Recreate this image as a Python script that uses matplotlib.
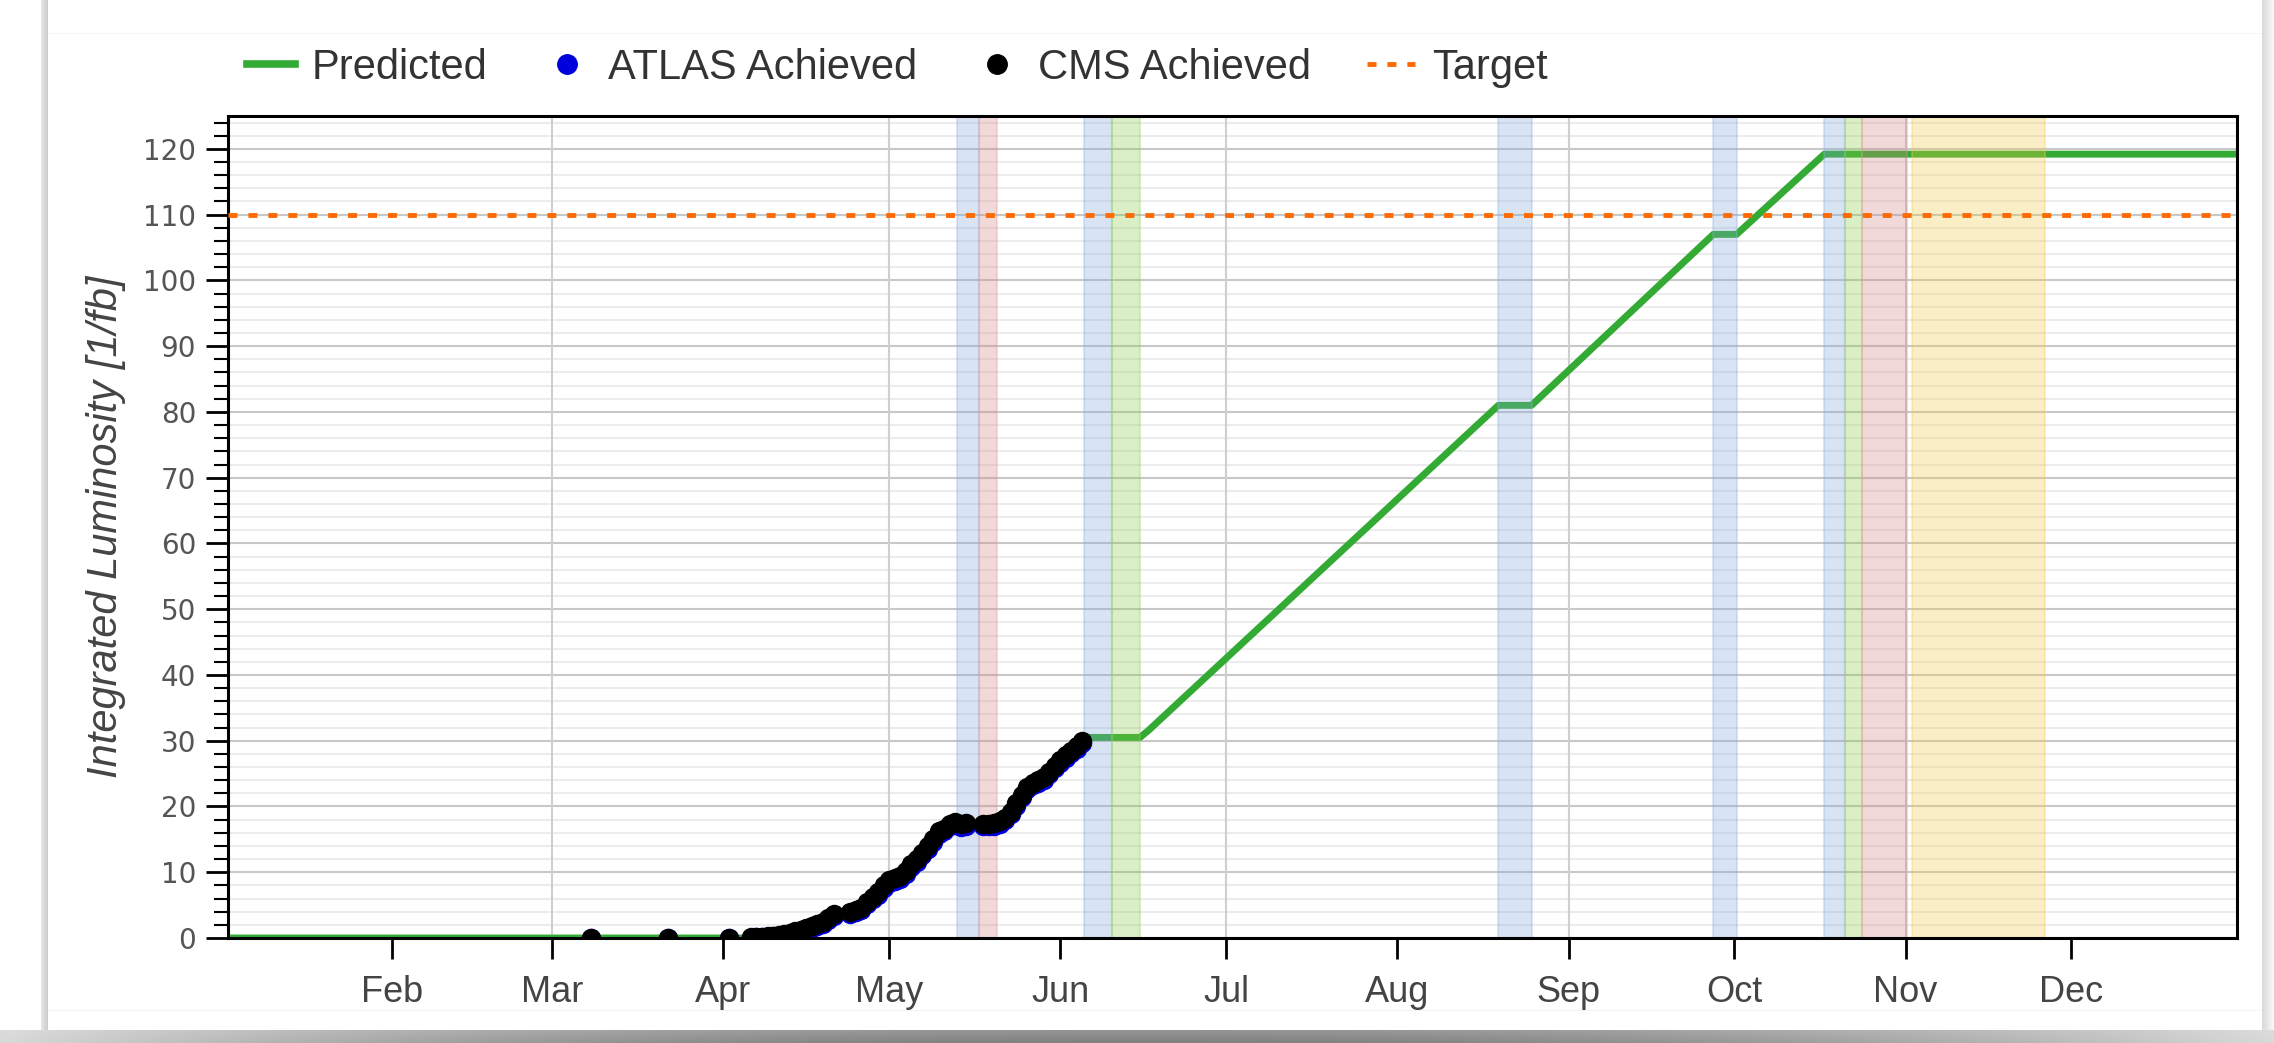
import matplotlib
matplotlib.use('Agg')
import matplotlib.pyplot as plt
import matplotlib.dates as mdates
from matplotlib.lines import Line2D
from matplotlib.ticker import MultipleLocator
import numpy as np
import pandas as pd

plt.rcParams['font.family'] = ['Liberation Sans', 'DejaVu Sans']

# ---- data ----
cms_dates = ['2024-03-08', '2024-03-22', '2024-04-02',
             '2024-04-06', '2024-04-07', '2024-04-08', '2024-04-09', '2024-04-10',
             '2024-04-11', '2024-04-12', '2024-04-13', '2024-04-14', '2024-04-15',
             '2024-04-16', '2024-04-17', '2024-04-18', '2024-04-19', '2024-04-20',
             '2024-04-21', '2024-04-24', '2024-04-25', '2024-04-26', '2024-04-27',
             '2024-04-28', '2024-04-29', '2024-04-30', '2024-05-01', '2024-05-02',
             '2024-05-03', '2024-05-04', '2024-05-05', '2024-05-06', '2024-05-07',
             '2024-05-08', '2024-05-09', '2024-05-10', '2024-05-11', '2024-05-12',
             '2024-05-13', '2024-05-14', '2024-05-15', '2024-05-18', '2024-05-19',
             '2024-05-20', '2024-05-21', '2024-05-22', '2024-05-23', '2024-05-24',
             '2024-05-25', '2024-05-26', '2024-05-27', '2024-05-28', '2024-05-29',
             '2024-05-30', '2024-05-31', '2024-06-01', '2024-06-02', '2024-06-03',
             '2024-06-04', '2024-06-05']
cms_lumi = [0.0, 0.0, 0.0,
            0.1, 0.15, 0.2, 0.3, 0.35,
            0.45, 0.6, 0.8, 1.0, 1.2,
            1.5, 1.8, 2.1, 2.5, 3.0,
            3.7, 4.0, 4.2, 4.5, 5.5,
            6.3, 7.0, 8.0, 8.8, 9.1,
            9.4, 10.2, 11.2, 12.0, 13.0,
            14.0, 15.0, 16.2, 16.6, 17.4,
            17.6, 17.3, 17.5, 17.4, 17.4,
            17.5, 17.8, 18.3, 19.2, 20.5,
            21.8, 23.0, 23.6, 24.0, 24.5,
            25.3, 26.2, 27.0, 27.8, 28.5,
            29.2, 30.0]

atlas_dates = cms_dates
atlas_lumi = [0.0, 0.0, 0.0,
              0.05, 0.1, 0.15, 0.2, 0.25,
              0.3, 0.4, 0.6, 0.8, 1.0,
              1.2, 1.5, 1.8, 2.2, 2.7,
              3.3, 3.7, 3.9, 4.2, 5.1,
              5.9, 6.6, 7.6, 8.4, 8.7,
              9.0, 9.8, 10.8, 11.6, 12.6,
              13.6, 14.6, 15.8, 16.2, 17.0,
              17.2, 16.9, 17.1, 17.0, 17.0,
              17.1, 17.4, 17.9, 18.8, 20.1,
              21.4, 22.6, 23.2, 23.6, 24.1,
              24.9, 25.8, 26.6, 27.4, 28.1,
              28.8, 29.6]

pred_dates = ['2024-01-02 00:00', '2024-04-08 00:00', '2024-04-14 00:00', '2024-04-21 00:00',
              '2024-04-24 00:00', '2024-05-01 00:00', '2024-05-13 00:00', '2024-05-18 00:00',
              '2024-05-20 00:00', '2024-05-23 00:00', '2024-05-26 00:00', '2024-05-29 00:00',
              '2024-06-01 00:00', '2024-06-05 08:00', '2024-06-15 10:00', '2024-06-17 00:00',
              '2024-08-19 07:00', '2024-08-25 07:00', '2024-09-27 05:00', '2024-10-01 10:00',
              '2024-10-17 07:00', '2024-12-31 00:00']
pred_lumi = [0, 0, 0.8, 2.6, 4.0, 8.8, 17.4, 17.4, 17.5, 19.2, 23.0, 24.5, 27.0,
             30.5, 30.5, 31.6, 81, 81, 107, 107, 119.2, 119.2]

target_lumi = 110

# shaded periods (MD = blue, TS = red, special = green, ions = yellow)
band_start = ['2024-05-13 07:00', '2024-05-17 05:00', '2024-06-05 07:00', '2024-06-10 07:00',
              '2024-08-19 07:00', '2024-09-27 05:00', '2024-10-17 07:00', '2024-10-21 02:00',
              '2024-10-24 05:00', '2024-11-02 05:00']
band_end = ['2024-05-17 05:00', '2024-05-20 12:00', '2024-06-10 07:00', '2024-06-15 10:00',
            '2024-08-25 07:00', '2024-10-01 10:00', '2024-10-21 02:00', '2024-10-24 05:00',
            '2024-11-01 05:00', '2024-11-26 07:00']
band_kind = ['MD', 'TS', 'MD', 'special', 'MD', 'MD', 'MD', 'special', 'TS', 'ions']

band_fill = {'MD': '#80a5da', 'TS': '#d48484', 'special': '#8acd48', 'ions': '#f1c945'}
band_edge = {'MD': '#8fb2e3', 'TS': '#d99a9a', 'special': '#8fd050', 'ions': '#f3cf55'}

W, H = 2274, 1043
fig = plt.figure(figsize=(W / 100, H / 100), dpi=100)

# screenshot card with its shadow
bg = np.ones((H, W))
bg[:, 41:48] = np.linspace(0.9, 0.8, 7)[None, :]
bg[:, 2262:] = np.linspace(0.85, 0.97, W - 2262)[None, :]
xs = np.abs(np.arange(W) - W / 2) / (W / 2)
shade = 0.5 + 0.35 * xs ** 2
rows = np.linspace(0.8, 1.0, H - 1030)[:, None]
bg[1030:, :] = shade[None, :] * rows + (1 - rows) * 0.9
bg[1010, 48:2262] = 0.95
bg[33, 48:2262] = 0.96
bgax = fig.add_axes([0, 0, 1, 1], zorder=-5)
bgax.imshow(bg, cmap='gray', vmin=0, vmax=1, aspect='auto', interpolation='nearest')
bgax.axis('off')

ax = fig.add_axes([228 / W, 1 - 938 / H, (2237 - 228) / W, (938 - 116) / H])

cd = pd.to_datetime(cms_dates, format='ISO8601')
ad = pd.to_datetime(atlas_dates, format='ISO8601')
pdt = pd.to_datetime(pred_dates, format='ISO8601')

ax.plot(pdt, pred_lumi, color='#33aa33', lw=5, zorder=2, solid_joinstyle='round')

for s, e, k in zip(band_start, band_end, band_kind):
    ax.axvspan(pd.Timestamp(s), pd.Timestamp(e), facecolor=band_fill[k], alpha=0.3,
               edgecolor=band_edge[k], lw=1.5, zorder=2.2)

ax.plot(ad, atlas_lumi, 'o', color='#0000dd', ms=14, mew=0, zorder=2.5)
ax.plot(cd, cms_lumi, 'o', color='black', ms=14, mew=0, zorder=2.6)

ax.axhline(target_lumi, color='#ff6a00', lw=3.5, ls=(0, (1.85, 2.25)), zorder=4)

# grid
for m in ['2024-03-01', '2024-05-01', '2024-07-01', '2024-09-01', '2024-11-01']:
    ax.axvline(pd.Timestamp(m), color='#cfcfcf', lw=1.5, zorder=1)
ax.yaxis.set_major_locator(MultipleLocator(10))
ax.yaxis.set_minor_locator(MultipleLocator(2))
ax.grid(True, axis='y', which='major', color='#c8c8c8', lw=1.5, zorder=0)
ax.grid(True, axis='y', which='minor', color='#ececec', lw=1.5, zorder=0)
ax.set_axisbelow(True)

ax.set_xlim(pd.Timestamp('2024-01-02 08:00'), pd.Timestamp('2024-12-31'))
ax.set_ylim(0, 125)
ax.xaxis.set_major_locator(mdates.MonthLocator())
ax.xaxis.set_major_formatter(mdates.DateFormatter('%b'))

ax.tick_params(axis='x', which='major', direction='out', length=15, width=2,
               labelsize=26, labelcolor='#444444', pad=12)
ax.tick_params(axis='y', which='major', direction='out', length=16, width=2,
               labelsize=20, labelcolor='#555555', pad=7)
ax.tick_params(axis='y', which='minor', direction='out', length=10, width=1.5)
for lab in ax.get_yticklabels():
    lab.set_family('DejaVu Sans')
for sp in ax.spines.values():
    sp.set_linewidth(2.2)
    sp.set_color('black')

ax.set_ylabel('Integrated Luminosity [1/fb]', fontsize=30, style='italic',
              color='#444444', labelpad=12)

handles = [Line2D([], [], color='#33aa33', lw=5.5),
           Line2D([], [], marker='o', ls='', color='#0000dd', ms=14),
           Line2D([], [], marker='o', ls='', color='black', ms=14),
           Line2D([], [], color='#ff6a00', lw=3.5, ls=(0, (1.85, 2.25)))]
labels = ['Predicted', 'ATLAS Achieved', 'CMS Achieved', 'Target']
leg = fig.legend(handles, labels, loc='center', ncol=4, frameon=False,
                 bbox_to_anchor=(0.3945, 1 - 68 / H), fontsize=30,
                 handlelength=1.15, handletextpad=0.4, columnspacing=1.35)
for t in leg.get_texts():
    t.set_color('#333333')

fig.savefig('out.png', dpi=100)
